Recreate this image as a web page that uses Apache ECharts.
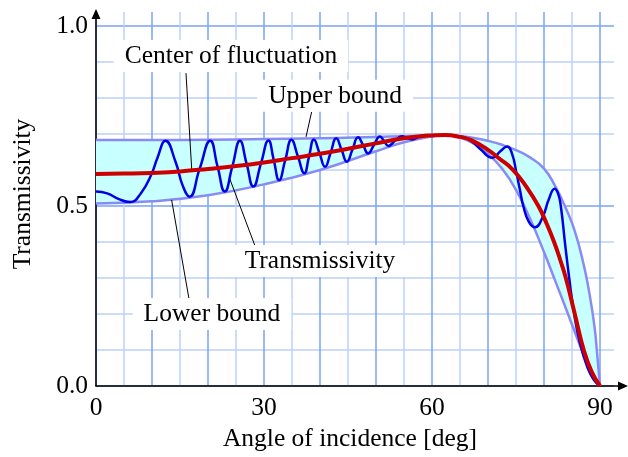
<!DOCTYPE html>
<html><head><meta charset="utf-8">
<script src="https://cdn.jsdelivr.net/npm/echarts@6/dist/echarts.min.js"></script>
<style>html,body{margin:0;padding:0;background:#fff}#c{width:628px;height:457px}</style>
</head><body><div id="c"></div>
<script>
// ---- data ----
const boundAngle = [0, 10, 20, 30, 40, 50, 55, 60, 62.3, 65, 67.5, 70, 72.5, 75, 77.5, 80, 82, 84, 85.5, 87, 88, 89, 89.5, 90];
const upperValue = [0.683, 0.683, 0.684, 0.686, 0.688, 0.692, 0.694, 0.696, 0.697, 0.694, 0.689, 0.681, 0.670, 0.655, 0.635, 0.604, 0.555, 0.49, 0.43, 0.343, 0.267, 0.167, 0.088, 0];
const lowerValue = [0.507, 0.513, 0.530, 0.560, 0.600, 0.652, 0.677, 0.693, 0.697, 0.690, 0.673, 0.645, 0.604, 0.545, 0.465, 0.372, 0.292, 0.212, 0.150, 0.090, 0.055, 0.020, 0.007, 0];

const centerAngle = [0, 5, 10, 15, 20, 25, 30, 35, 40, 45, 50, 55, 58, 60, 62.3, 65, 67, 70, 72, 74.5, 77.0, 79.0, 80.5, 81.8, 82.9, 83.9, 85.5, 87.1, 88.5, 90];
const centerValue = [0.589, 0.590, 0.592, 0.596, 0.603, 0.611, 0.621, 0.633, 0.645, 0.659, 0.674, 0.688, 0.694, 0.696, 0.697, 0.692, 0.683, 0.656, 0.632, 0.600, 0.550, 0.500, 0.450, 0.400, 0.350, 0.300, 0.200, 0.100, 0.040, 0];

const transAngle = [0, 2, 4.1, 6.1, 8.0, 9.9, 11.0, 12.4, 14.2, 15.5, 16.7, 18.5, 20.4, 21.7, 23.0, 24.35, 25.7, 26.9, 28.1, 29.45, 30.8, 31.75, 32.7, 33.8, 34.9, 36.05, 37.2, 38.05, 38.9, 39.9, 40.9, 41.9, 42.9, 43.85, 44.8, 45.8, 46.8, 47.7, 48.6, 49.65, 50.7, 51.45, 52.2, 53.4, 54.6, 55.5, 56.4, 57.35, 58.3, 60, 62.3, 64.5, 66.5, 68.5, 70.8, 72.2, 73.4, 74.3, 75.1, 75.7, 76.3, 77.3, 78.4, 79.7, 80.9, 81.9, 82.5, 83.0, 83.8, 84.5, 85.3, 86.4, 87.8, 89, 90];
const transValue = [0.540, 0.535, 0.519, 0.511, 0.535, 0.588, 0.635, 0.681, 0.623, 0.556, 0.526, 0.603, 0.681, 0.610, 0.540, 0.610, 0.681, 0.617, 0.554, 0.618, 0.682, 0.627, 0.572, 0.628, 0.684, 0.638, 0.591, 0.638, 0.685, 0.647, 0.609, 0.648, 0.688, 0.656, 0.623, 0.657, 0.691, 0.669, 0.646, 0.670, 0.693, 0.680, 0.667, 0.681, 0.694, 0.689, 0.685, 0.690, 0.695, 0.695, 0.697, 0.694, 0.686, 0.660, 0.634, 0.652, 0.665, 0.645, 0.590, 0.545, 0.500, 0.456, 0.441, 0.467, 0.520, 0.548, 0.535, 0.500, 0.390, 0.300, 0.210, 0.120, 0.050, 0.015, 0];

const xTickLabels = [0, 30, 60, 90];
const yTickLabels = [0.0, 0.5, 1.0];

const annotationText = ['Center of fluctuation', 'Upper bound', 'Transmissivity', 'Lower bound'];
const annotationAt = [[24.1, 0.917], [42.7, 0.806], [40.0, 0.347], [20.7, 0.200]];
const leaderFrom = [[16.07, 0.869], [38.5, 0.761], [28.4, 0.389], [16.8, 0.225]];
const leaderTo = [[17.1, 0.600], [37.5, 0.692], [23.9, 0.575], [13.5, 0.517]];

// ---- chart ----
const pairs = (a, b) => a.map((x, i) => [x, b[i]]);
const DARK = '#78a3f4', LIGHT = '#bcd0fa', LAV = '#8a8af4';
const FONT = '"Liberation Serif","Times New Roman",serif';
const FS = 25.5;

const chart = echarts.init(document.getElementById('c'));

function renderBand(params, api) {
  if (params.dataIndex !== 0) return;
  const up = boundAngle.map((a, i) => api.coord([a, upperValue[i]]));
  const lo = boundAngle.map((a, i) => api.coord([a, lowerValue[i]]));
  const cs = params.coordSys;
  const cons = [[cs.x, cs.y], [cs.x + cs.width, cs.y + cs.height]];
  // repeat the two left corners so the closing edge at 0 deg stays straight
  const ring = [up[0]].concat(up, lo.slice().reverse(), [lo[0]]);
  return {
    type: 'group',
    children: [
      { type: 'polygon', shape: { points: ring, smooth: 0.5, smoothConstraint: cons },
        style: { fill: '#c8ffff', stroke: null } },
      { type: 'polyline', shape: { points: up, smooth: 0.5 }, style: { fill: null, stroke: LAV, lineWidth: 2.5 } },
      { type: 'polyline', shape: { points: lo, smooth: 0.5 }, style: { fill: null, stroke: LAV, lineWidth: 2.5 } }
    ]
  };
}

function renderNotes(params, api) {
  if (params.dataIndex !== 0) return;
  const children = [];
  leaderFrom.forEach((f, i) => {
    const a = api.coord(f), b = api.coord(leaderTo[i]);
    children.push({ type: 'line', shape: { x1: a[0], y1: a[1], x2: b[0], y2: b[1] }, style: { stroke: '#000', lineWidth: 1 } });
  });
  annotationAt.forEach((p, i) => {
    const c = api.coord(p);
    children.push({ type: 'text', x: c[0], y: c[1], style: {
      text: annotationText[i], font: FS + 'px ' + FONT, fill: '#000', align: 'center', verticalAlign: 'middle',
      backgroundColor: '#fff', padding: [3, 11] } });
  });
  return { type: 'group', children };
}

chart.setOption({
  animation: false,
  backgroundColor: '#fff',
  grid: [
    { left: 96, right: 14, top: 12, bottom: 71 },
    { left: 96, right: 5, top: 14, bottom: 71 }
  ],
  xAxis: [
    {
      gridIndex: 0, type: 'value', min: 0, max: 92.5, interval: 5,
      axisLine: { show: false }, axisTick: { show: false },
      splitLine: { show: true, showMaxLine: false, lineStyle: { color: [DARK, LIGHT], width: 1.5 } },
      axisLabel: {
        formatter: v => xTickLabels.some(t => Math.abs(t - v) < 1e-9) ? String(v) : '',
        fontFamily: FONT, fontSize: FS, color: '#000', margin: 9
      },
      name: 'Angle of incidence [deg]', nameLocation: 'middle', nameGap: 38,
      nameTextStyle: { fontFamily: FONT, fontSize: FS, color: '#000', padding: [0, 10, 0, 0] }
    },
    {
      gridIndex: 1, type: 'value', min: 0, max: 1,
      axisLine: { show: true, onZero: false, lineStyle: { color: '#000', width: 1.5 }, symbol: ['none', 'triangle'], symbolSize: [9, 10] },
      axisTick: { show: false }, axisLabel: { show: false }, splitLine: { show: false }
    }
  ],
  yAxis: [
    {
      gridIndex: 0, type: 'value', min: 0, max: 1.0389, interval: 0.1,
      axisLine: { show: false }, axisTick: { show: false },
      splitLine: { show: true, showMaxLine: false, lineStyle: { color: [DARK, LIGHT, LIGHT, LIGHT, LIGHT], width: 1.5 } },
      axisLabel: {
        formatter: v => yTickLabels.some(t => Math.abs(t - v) < 1e-9) ? v.toFixed(1) : '',
        fontFamily: FONT, fontSize: FS, color: '#000', margin: 8
      },
      name: 'Transmissivity', nameLocation: 'middle', nameGap: 60,
      nameTextStyle: { fontFamily: FONT, fontSize: FS, color: '#000', padding: [0, 0, 0, 10] }
    },
    {
      gridIndex: 1, type: 'value', min: 0, max: 1,
      axisLine: { show: true, onZero: false, lineStyle: { color: '#000', width: 1.5 }, symbol: ['none', 'triangle'], symbolSize: [9, 10] },
      axisTick: { show: false }, axisLabel: { show: false }, splitLine: { show: false }
    }
  ],
  series: [
    { type: 'custom', xAxisIndex: 0, yAxisIndex: 0, renderItem: renderBand, data: [[0, 0]], clip: true, silent: true },
    { type: 'line', data: pairs(transAngle, transValue), smooth: true, symbol: 'none',
      lineStyle: { color: '#0000e6', width: 2.5 }, silent: true },
    { type: 'line', data: pairs(centerAngle, centerValue), smooth: true, symbol: 'none',
      lineStyle: { color: '#cc0000', width: 4 }, silent: true },
    { type: 'custom', xAxisIndex: 0, yAxisIndex: 0, renderItem: renderNotes, data: [[0, 0]], silent: true }
  ]
});
</script></body></html>
